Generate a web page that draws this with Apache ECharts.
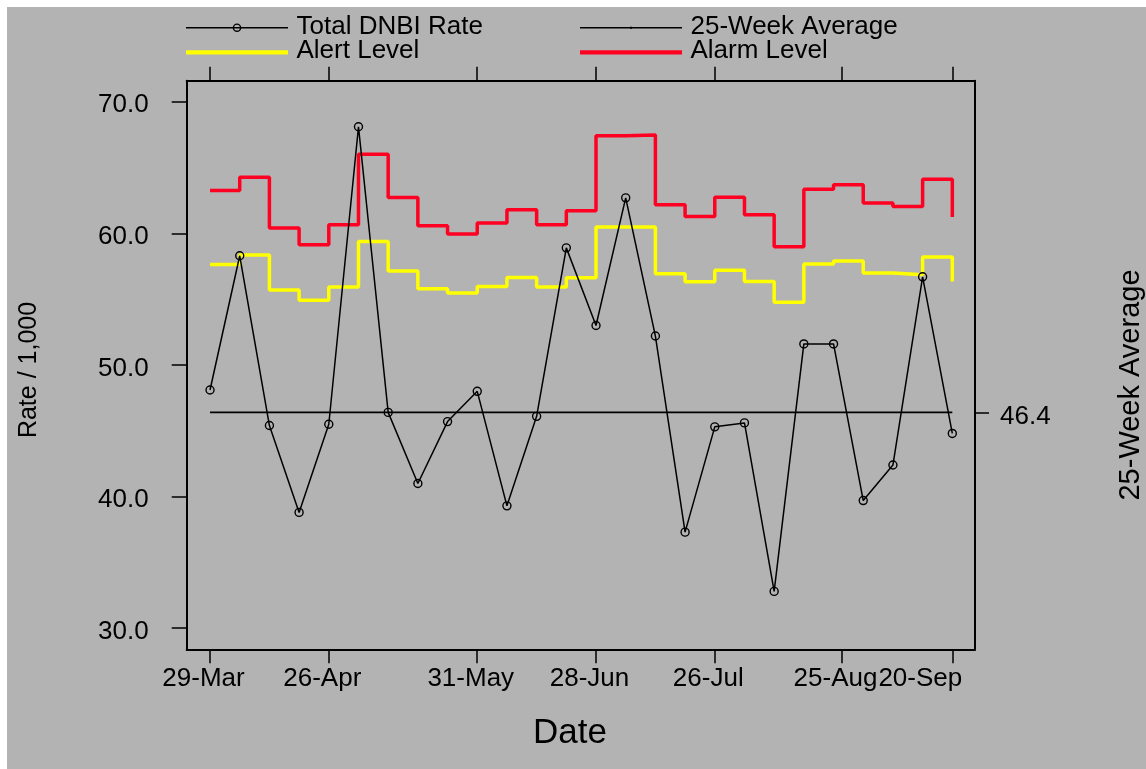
<!DOCTYPE html>
<html>
<head>
<meta charset="utf-8">
<title>Total DNBI Rate</title>
<script src="https://cdn.jsdelivr.net/npm/echarts@6/dist/echarts.min.js"></script>
<style>
  html, body { margin: 0; padding: 0; background: #ffffff; }
  #bg { position: absolute; left: 7px; top: 7px; right: 0; bottom: 0; background: #b3b3b3; }
  #chart { position: absolute; left: 0; top: 0; width: 1146px; height: 769px; }
</style>
</head>
<body>
<div id="bg"></div>
<div id="chart"></div>
<script>
// Week offsets in days from 29-Mar
const weekDay = [0, 7, 14, 21, 28, 35, 42, 49, 56, 63, 70, 77, 84, 91, 98, 105, 112, 119, 126, 133, 140, 147, 154, 161, 168, 175];

// Weekly total DNBI rate per 1,000
const totalRate = [48.1, 58.3, 45.4, 38.8, 45.5, 68.1, 46.4, 41.0, 45.7, 48.0, 39.3, 46.1, 58.9,
                   53.0, 62.7, 52.2, 37.3, 45.3, 45.6, 32.8, 51.6, 51.6, 39.7, 42.4, 56.7, 44.8];

// Alert and alarm thresholds (held until the following week)
const alertLevel = [57.64, 58.35, 55.70, 54.91, 55.93, 59.39, 57.14, 55.80, 55.47, 55.97, 56.65, 55.93, 56.63,
                    60.48, 60.48, 56.93, 56.33, 57.19, 56.35, 54.76, 57.67, 57.90, 56.99, 56.86, 58.20, 56.35];
const alarmLevel = [63.26, 64.27, 60.40, 59.14, 60.65, 66.02, 62.72, 60.58, 59.95, 60.78, 61.79, 60.65, 61.71,
                    67.41, 67.48, 62.17, 61.28, 62.74, 61.41, 58.98, 63.36, 63.69, 62.30, 62.05, 64.12, 61.24];

// 25-week average rate
const avgRate = 46.4;

// Axis ticks
const tickDays = [0, 28, 63, 91, 119, 149, 175];
const tickLabels = ['29-Mar', '26-Apr', '31-May', '28-Jun', '26-Jul', '25-Aug', '20-Sep'];
const yTicks = [30, 40, 50, 60, 70];

// Legend entries: name and colour
const legendNames = ['Total DNBI Rate', '25-Week Average', 'Alert Level', 'Alarm Level'];

const pairs = (ys) => weekDay.map((d, i) => [d, ys[i]]);

const FONT = '"Liberation Sans", Arial, Helvetica, sans-serif';
const RED = '#ff0022';
const YELLOW = '#ffff00';
const X_MIN = -5.5, X_MAX = 180.35;
const Y_MIN = 28.4, Y_MAX = 71.6;
const AXIS_LINE = { show: true, onZero: false, lineStyle: { color: '#000', width: 2 } };

const chart = echarts.init(document.getElementById('chart'), null, { renderer: 'canvas' });

// Legend drawn as two columns of line samples with text
function legendEntry(x, y, name, kind) {
  const els = [];
  const x0 = x, x1 = x + 102;
  if (kind === 'points') {
    els.push({ type: 'line', shape: { x1: x0, y1: y, x2: x1, y2: y }, style: { stroke: '#000', lineWidth: 1.4 } });
    els.push({ type: 'circle', shape: { cx: (x0 + x1) / 2, cy: y, r: 3.6 }, style: { stroke: '#000', fill: null, lineWidth: 1.4 } });
  } else if (kind === 'avg') {
    els.push({ type: 'line', shape: { x1: x0, y1: y, x2: x1, y2: y }, style: { stroke: '#000', lineWidth: 1.4 } });
    els.push({ type: 'rect', shape: { x: (x0 + x1) / 2 - 1, y: y - 1, width: 2, height: 2 }, style: { fill: '#000' } });
  } else {
    els.push({ type: 'line', shape: { x1: x0, y1: y, x2: x1, y2: y }, style: { stroke: kind, lineWidth: 4.2 } });
  }
  els.push({ type: 'text', x: x1 + 8.5, y: y - 1.2,
    style: { text: name, font: '26px ' + FONT, fill: '#000', align: 'left', verticalAlign: 'middle' } });
  return els;
}

const legendGraphics = [].concat(
  legendEntry(186, 27.7, legendNames[0], 'points'),
  legendEntry(580, 27.7, legendNames[1], 'avg'),
  legendEntry(186, 52.3, legendNames[2], YELLOW),
  legendEntry(580, 52.3, legendNames[3], RED)
);

chart.setOption({
  animation: false,
  backgroundColor: 'transparent',
  textStyle: { fontFamily: FONT },
  grid: { left: 186.7, right: 171, top: 80.7, bottom: 119.7, containLabel: false },
  xAxis: [
    {
      type: 'value', position: 'bottom', min: X_MIN, max: X_MAX,
      axisLine: AXIS_LINE,
      splitLine: { show: false },
      axisTick: { show: true, inside: false, length: 14, customValues: tickDays, lineStyle: { color: '#000', width: 1.5 } },
      axisLabel: {
        show: true, margin: 17, customValues: tickDays,
        formatter: (v) => {
          const i = tickDays.indexOf(v);
          if (i < 0) return '';
          return (i === tickDays.length - 1 ? '{b|' : '{a|') + tickLabels[i] + '}';
        },
        rich: {
          a: { fontFamily: FONT, fontSize: 26, color: '#000', padding: [0, 13, 0, 0] },
          b: { fontFamily: FONT, fontSize: 26, color: '#000', padding: [0, 64, 0, 0] }
        }
      }
    },
    {
      type: 'value', position: 'top', min: X_MIN, max: X_MAX,
      axisLine: AXIS_LINE,
      splitLine: { show: false },
      axisTick: { show: true, inside: false, length: 14, customValues: tickDays, lineStyle: { color: '#000', width: 1.5 } },
      axisLabel: { show: false }
    }
  ],
  yAxis: [
    {
      type: 'value', position: 'left', min: Y_MIN, max: Y_MAX,
      axisLine: AXIS_LINE,
      splitLine: { show: false },
      axisTick: { show: true, inside: false, length: 15, customValues: yTicks, lineStyle: { color: '#000', width: 1.5 } },
      axisLabel: {
        show: true, margin: 38, customValues: yTicks,
        formatter: (v) => '{v|' + v.toFixed(1) + '}',
        rich: { v: { fontFamily: FONT, fontSize: 26, color: '#000', padding: [7, 0, 0, 0] } }
      }
    },
    {
      type: 'value', position: 'right', min: Y_MIN, max: Y_MAX,
      axisLine: AXIS_LINE,
      splitLine: { show: false },
      axisTick: { show: true, inside: false, length: 14, customValues: [avgRate], lineStyle: { color: '#000', width: 1.5 } },
      axisLabel: {
        show: true, margin: 25, customValues: [avgRate],
        formatter: (v) => '{v|' + v.toFixed(1) + '}',
        rich: { v: { fontFamily: FONT, fontSize: 26, color: '#000', padding: [8, 0, 0, 0] } }
      }
    }
  ],
  graphic: legendGraphics.concat([
    { type: 'text', x: 29, y: 370, rotation: Math.PI / 2,
      style: { text: 'Rate / 1,000', font: '25px ' + FONT, fill: '#000', align: 'center', verticalAlign: 'middle' } },
    { type: 'text', x: 1131, y: 385, rotation: Math.PI / 2,
      style: { text: '25-Week Average', font: '29px ' + FONT, fill: '#000', align: 'center', verticalAlign: 'middle' } },
    { type: 'text', x: 570, y: 733,
      style: { text: 'Date', font: '35px ' + FONT, fill: '#000', align: 'center', verticalAlign: 'middle' } }
  ]),
  series: [
    {
      name: 'Alarm Level', type: 'line', step: 'end', xAxisIndex: 0, yAxisIndex: 0,
      data: pairs(alarmLevel), symbol: 'none',
      lineStyle: { color: RED, width: 3.5 }, itemStyle: { color: RED }, z: 2
    },
    {
      name: 'Alert Level', type: 'line', step: 'end', xAxisIndex: 0, yAxisIndex: 0,
      data: pairs(alertLevel), symbol: 'none',
      lineStyle: { color: YELLOW, width: 3.5 }, itemStyle: { color: YELLOW }, z: 2
    },
    {
      name: '25-Week Average', type: 'line', xAxisIndex: 0, yAxisIndex: 0,
      data: [[weekDay[0], avgRate], [weekDay[weekDay.length - 1], avgRate]], symbol: 'none',
      lineStyle: { color: '#000', width: 1.8 }, itemStyle: { color: '#000' }, z: 3
    },
    {
      name: 'Total DNBI Rate', type: 'line', xAxisIndex: 0, yAxisIndex: 0,
      data: pairs(totalRate), symbol: 'circle', symbolSize: 8, showSymbol: true,
      lineStyle: { color: '#000', width: 1.5 },
      itemStyle: { color: 'rgba(0,0,0,0)', borderColor: '#000', borderWidth: 1.4 },
      z: 4
    }
  ]
});
</script>
</body>
</html>
